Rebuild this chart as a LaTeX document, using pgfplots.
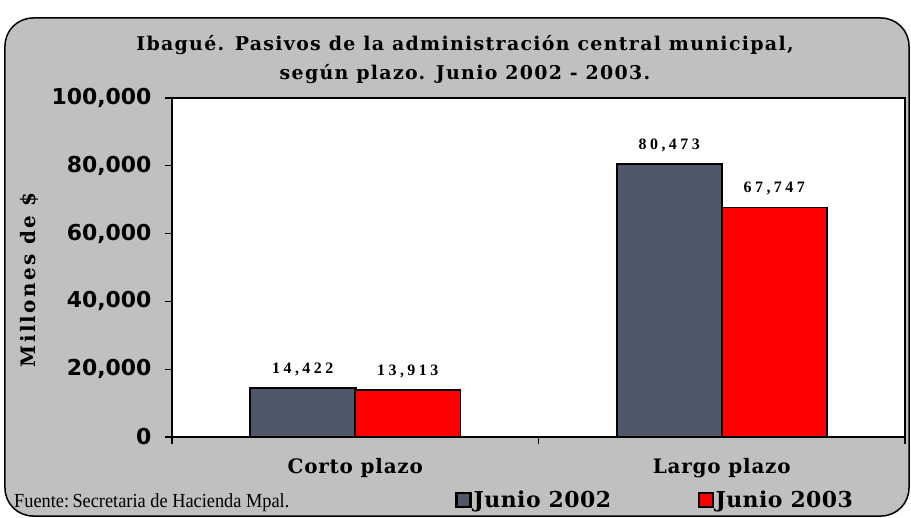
\documentclass[border=0pt]{standalone}
\usepackage{pgfplots}
\pgfplotsset{compat=1.18}
\usepackage{fontspec}
\setmainfont{DejaVu Serif}
\newfontfamily\slabT[LetterSpace=7]{DejaVu Serif Bold}
\newfontfamily\slabC[LetterSpace=4]{DejaVu Serif Bold}
\newfontfamily\slabY[LetterSpace=12]{DejaVu Serif Bold}
\newfontfamily\slabL[LetterSpace=2]{DejaVu Serif Bold}
\newfontfamily\verd{DejaVu Sans}
\newfontfamily\tnr[FakeStretch=0.92]{Liberation Serif}
\newfontfamily\tnrsp[LetterSpace=22]{Liberation Serif}
\definecolor{bggray}{RGB}{192,192,192}
\definecolor{darkbar}{RGB}{78,88,104}
\begin{document}
\begin{tikzpicture}
\useasboundingbox (-172bp,-81bp) rectangle (739bp,437bp);
\clip (-172bp,-81bp) rectangle (739bp,437bp);
\filldraw[fill=bggray, draw=black, line width=1.5bp, rounded corners=28bp]
  (-167bp,-79bp) rectangle (737bp,419bp);
\node[anchor=base, font=\slabT\fontsize{19}{20}\selectfont] at (293bp,386bp)
  {Ibagué. Pasivos de la administración central municipal,};
\node[anchor=base, font=\slabT\fontsize{19}{20}\selectfont] at (293bp,357bp)
  {según plazo. Junio 2002 - 2003.};
\node[anchor=base west, inner sep=0pt, font=\tnr\fontsize{20}{20}\selectfont] at (-158bp,-70bp)
  {Fuente:\,Secretaria de Hacienda Mpal.};
\begin{axis}[
  at={(0,0)}, anchor=south west, scale only axis,
  width=733bp, height=339bp,
  axis background/.style={fill=white},
  axis line style={line width=1.5bp},
  ybar=0pt, bar width=105bp,
  xmin=-0.5, xmax=1.5, ymin=0, ymax=100000,
  tick align=outside, xtick pos=lower, ytick pos=left,
  major tick length=7bp,
  tick style={line width=1.2bp, black},
  xtick={-0.5,0.5,1.5}, xticklabels={,,},
  extra x ticks={0,1}, extra x tick labels={Corto plazo, Largo plazo},
  extra x tick style={major tick length=0pt,
    tick label style={font=\slabC\fontsize{20}{20}\selectfont, anchor=base, yshift=-36bp}},
  ytick={0,20000,40000,60000,80000,100000},
  scaled y ticks=false,
  /pgf/number format/fixed,
  /pgf/number format/precision=0,
  /pgf/number format/1000 sep={,},
  /pgf/number format/assume math mode=true,
  yticklabel style={font=\verd\bfseries\fontsize{22}{22}\selectfont, xshift=-10bp},
  ylabel={Millones de \$},
  ylabel style={font=\slabY\fontsize{20}{20}\selectfont,
    at={(axis description cs:-0.194,0.463)}, anchor=center},
  nodes near coords,
  nodes near coords style={font=\tnrsp\bfseries\fontsize{16}{16}\selectfont, yshift=8bp},
  legend style={at={(axis description cs:0.382,-0.186)}, anchor=west,
    draw=none, fill=none, font=\slabL\fontsize{22}{22}\selectfont,
    legend columns=2,
    /tikz/every even column/.append style={column sep=85bp}},
  legend image code/.code={\draw[#1] (0bp,-7bp) rectangle (14bp,7bp);},
]
\addplot[fill=darkbar, draw=black, line width=2.5bp] coordinates {(0,14422) (1,80473)};
\addlegendentry{Junio 2002}
\addplot[fill=red, draw=black, line width=1.5bp] coordinates {(0,13913) (1,67747)};
\addlegendentry{Junio 2003}
\end{axis}
\end{tikzpicture}
\end{document}
